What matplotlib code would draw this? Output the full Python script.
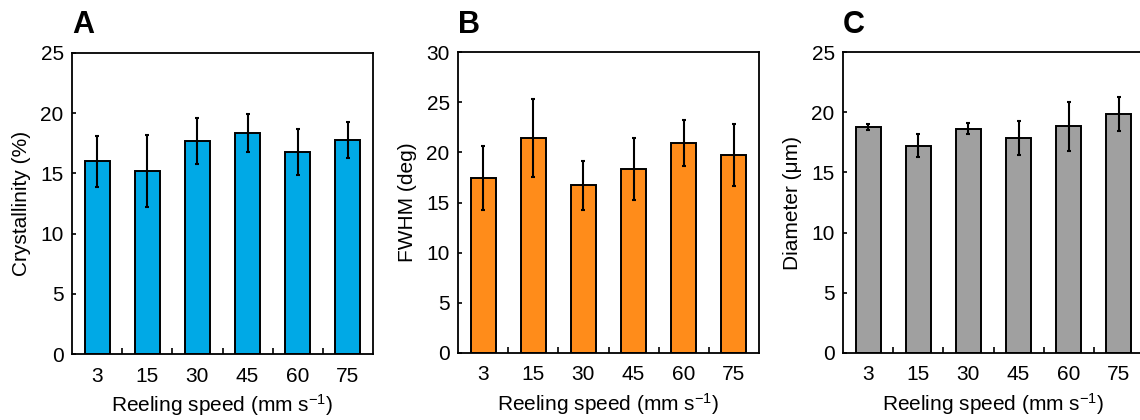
import numpy as np
import matplotlib
matplotlib.use('Agg')
import matplotlib.pyplot as plt
from matplotlib.ticker import MultipleLocator, FixedLocator

plt.rcParams['font.family'] = ['Liberation Sans', 'DejaVu Sans']
plt.rcParams['mathtext.fontset'] = 'custom'
plt.rcParams['mathtext.rm'] = 'Liberation Sans'
plt.rcParams['mathtext.default'] = 'regular'

speeds = ['3', '15', '30', '45', '60', '75']

cryst = [16.0, 15.2, 17.7, 18.35, 16.8, 17.8]
cryst_err = [2.1, 3.0, 1.9, 1.6, 1.9, 1.5]

fwhm = [17.45, 21.4, 16.7, 18.3, 20.9, 19.7]
fwhm_err = [3.2, 3.9, 2.4, 3.1, 2.3, 3.1]

diam = [18.77, 17.22, 18.63, 17.86, 18.83, 19.85]
diam_err = [0.25, 0.95, 0.45, 1.4, 2.05, 1.45]

W, H = 1140, 420
fig = plt.figure(figsize=(W / 100, H / 100), dpi=100)

panels = [
    # letter, left px, top px, values, errors, color, ylim, ylabel
    ('A', 72, 53, cryst, cryst_err, '#00A9E6', 25, 'Crystallinity (%)'),
    ('B', 458, 52, fwhm, fwhm_err, '#FF8C1A', 30, 'FWHM (deg)'),
    ('C', 843, 52, diam, diam_err, '#A0A0A0', 25, 'Diameter (\u03bcm)'),
]

x = np.arange(len(speeds))
for letter, left, top, vals, errs, color, ymax, ylabel in panels:
    ax = fig.add_axes([left / W, (H - top - 301) / H, 301 / W, 301 / H])
    ax.bar(x, vals, width=0.5, color=color, edgecolor='black', linewidth=1.4, zorder=2)
    ax.errorbar(x, vals, yerr=errs, fmt='none', ecolor='black', elinewidth=1.5,
                capsize=1.5, capthick=1.5, zorder=3)
    ax.set_xlim(-0.5, len(speeds) - 0.5)
    ax.set_ylim(0, ymax)
    ax.yaxis.set_major_locator(MultipleLocator(5))
    ax.set_xticks(x)
    ax.set_xticklabels(speeds)
    ax.xaxis.set_minor_locator(FixedLocator(x[:-1] + 0.5))
    ax.tick_params(axis='x', which='major', length=0, pad=9, labelsize=15)
    ax.tick_params(axis='x', which='minor', direction='in', length=4, width=1.2)
    ax.tick_params(axis='y', direction='in', length=3, width=1.2, pad=6, labelsize=15)
    for s in ax.spines.values():
        s.set_linewidth(1.3)
    ax.set_ylabel(ylabel, fontsize=15, labelpad=7)
    ax.set_xlabel('Reeling speed (mm s$^{-1}$)', fontsize=15, labelpad=5)
    fig.text(left / W, (H - 33) / H, letter, fontsize=22, fontweight='bold',
             ha='left', va='baseline')

fig.savefig('out.png', dpi=100)
